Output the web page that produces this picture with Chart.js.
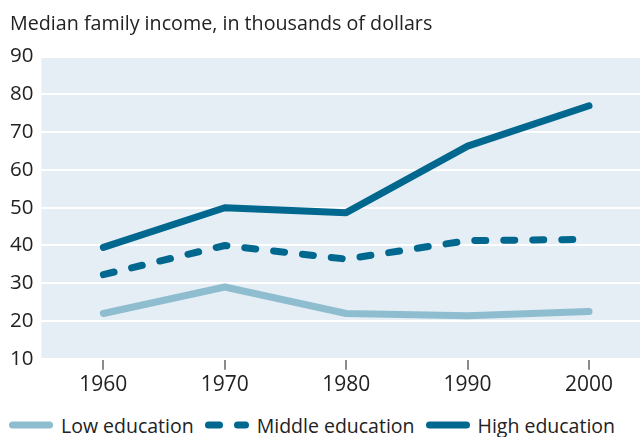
<!DOCTYPE html>
<html>
<head>
<meta charset="utf-8">
<script src="https://cdn.jsdelivr.net/npm/chart.js@4"></script>
<style>
  html, body { margin: 0; padding: 0; background: #fff; }
  #wrap { width: 640px; height: 437px; position: relative; }
  #plot { width: 640px; height: 403px; position: absolute; left: 0; top: 0; }
  #legend {
    position: absolute; left: 9px; top: 409px; height: 32px;
    display: flex; align-items: center;
    font-family: 'Open Sans', sans-serif; font-size: 19.5px; color: #222;
  }
  #legend .item { display: flex; align-items: center; margin-right: 11px; }
  #legend svg { width: 44px; height: 10px; margin-right: 8px; }
</style>
</head>
<body>
<div id="wrap">
  <div id="plot"><canvas id="chart"></canvas></div>
  <div id="legend"></div>
</div>
<script>
// ── Data ─────────────────────────────────────────────
const years   = [1960, 1970, 1980, 1990, 2000];
const lowEdu  = [22.0, 29.0, 22.0, 21.4, 22.5];
const midEdu  = [32.3, 40.0, 36.4, 41.3, 41.6];
const highEdu = [39.5, 50.0, 48.7, 66.3, 77.0];
const yTicks  = [10, 20, 30, 40, 50, 60, 70, 80, 90];

const dark  = "#00678f";
const light = "#8fbdd0";
const font  = "'Open Sans', sans-serif";
const ink   = "#222";
const dash  = [11, 18];

const pts = (vals) => years.map((x, i) => ({ x, y: vals[i] }));

// plot background
const plotBg = {
  id: "plotBg",
  beforeDraw(chart) {
    const a = chart.chartArea, c = chart.ctx;
    c.save();
    c.fillStyle = "#e5eef4";
    c.fillRect(a.left, a.top, a.right - a.left, a.bottom - a.top);
    c.restore();
  },
};

const line = (label, data, color, d) => ({
  label,
  data: pts(data),
  borderColor: color,
  backgroundColor: color,
  borderWidth: 7,
  borderCapStyle: "round",
  borderJoinStyle: "round",
  borderDash: d || [],
  pointRadius: 0,
  tension: 0,
});

const chart = new Chart(document.getElementById("chart"), {
  type: "line",
  data: {
    datasets: [
      line("Low education", lowEdu, light),
      line("Middle education", midEdu, dark, dash),
      line("High education", highEdu, dark),
    ],
  },
  options: {
    responsive: true,
    maintainAspectRatio: false,
    animation: false,
    layout: { padding: { left: 10, right: 0, top: 0, bottom: 2 } },
    plugins: {
      title: {
        display: true,
        text: "Median family income, in thousands of dollars",
        align: "start",
        color: ink,
        font: { family: font, size: 19.7, weight: "normal" },
        padding: { top: 13, bottom: 20 },
      },
      legend: { display: false },
      tooltip: { enabled: false },
    },
    scales: {
      x: {
        type: "linear",
        min: 1954.9,
        max: 2004.2,
        afterBuildTicks: (s) => { s.ticks = years.map((v) => ({ value: v })); },
        border: { display: false },
        grid: { drawOnChartArea: false, drawTicks: true, tickLength: 11, color: "#8a8a8a", lineWidth: 2 },
        ticks: { color: ink, padding: 3, font: { family: font, size: 21 }, callback: (v) => String(v) },
      },
      y: {
        min: 10,
        max: 90,
        afterBuildTicks: (s) => { s.ticks = yTicks.map((v) => ({ value: v })); },
        border: { display: false },
        grid: { color: "#ffffff", lineWidth: 2, drawTicks: false },
        ticks: { color: ink, padding: 4, crossAlign: "far", font: { family: font, size: 20.5 } },
      },
    },
  },
  plugins: [plotBg],
});

// ── HTML legend (keeps the dashed marker) ────────────
const legend = document.getElementById("legend");
chart.data.datasets.forEach((ds) => {
  const item = document.createElement("span");
  item.className = "item";
  const da = ds.borderDash.length ? ` stroke-dasharray="${ds.borderDash.join(" ")}"` : "";
  item.innerHTML =
    `<svg viewBox="0 0 44 10"><line x1="3.5" y1="5" x2="40.5" y2="5" stroke="${ds.borderColor}"` +
    ` stroke-width="7" stroke-linecap="round"${da}/></svg><span>${ds.label}</span>`;
  legend.appendChild(item);
});
</script>
</body>
</html>
